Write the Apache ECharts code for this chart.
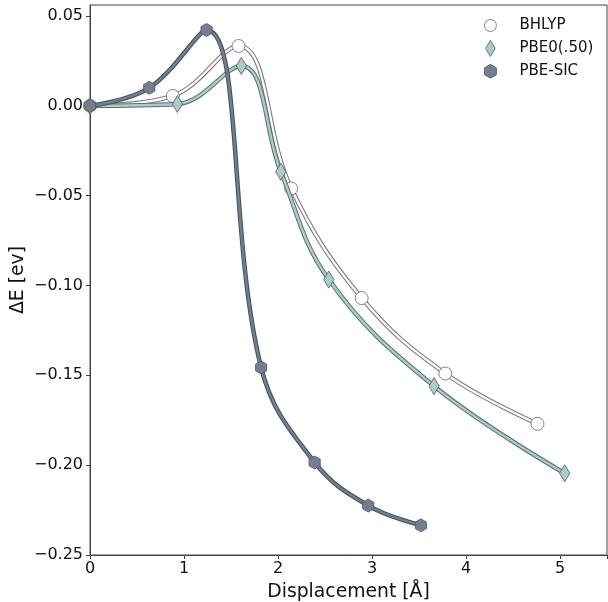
<!DOCTYPE html>
<html>
<head>
<meta charset="utf-8">
<script src="https://cdn.jsdelivr.net/npm/echarts@6/dist/echarts.min.js"></script>
<style>html,body{margin:0;padding:0;background:#fff}#c{width:608px;height:602px}</style>
</head>
<body>
<div id="c"></div>
<script>
const seriesNames = ['BHLYP', 'PBE0(.50)', 'PBE-SIC'];
const bhlypX = [0, 0.88, 1.58, 2.14, 2.89, 3.78, 4.76];
const bhlypY = [0, 0.0055, 0.0333, -0.046, -0.107, -0.149, -0.177];
const pbe0X = [0, 0.93, 1.61, 2.03, 2.54, 3.66, 5.05];
const pbe0Y = [0, 0.001, 0.0222, -0.0367, -0.0967, -0.156, -0.2045];
const sicX = [0, 0.63, 1.24, 1.82, 2.39, 2.96, 3.52];
const sicY = [0, 0.010, 0.0422, -0.1456, -0.1985, -0.2225, -0.2335];
const xTicks = [0, 1, 2, 3, 4, 5];
const yTicks = [-0.25, -0.20, -0.15, -0.10, -0.05, 0.00, 0.05];

const pair = (xs, ys) => xs.map((x, i) => [x, ys[i]]);
const hex = 'path://M0,-1L0.866,-0.5L0.866,0.5L0,1L-0.866,0.5L-0.866,-0.5Z';
const dia = 'path://M0,-1L0.6,0L0,1L-0.6,0Z';
const FONT = 'DejaVu Sans';
const SM = 0.4;

function edge(name, data, color, w, z) {
  return { name: name + '_edge', type: 'line', data, smooth: SM, showSymbol: false, symbol: 'none',
    lineStyle: { color, width: w }, z, silent: true, animation: false };
}
function main(name, data, color, w, z, symbol, size, fill, border) {
  return { name, type: 'line', data, smooth: SM, symbol, symbolSize: size, showSymbol: true, symbolKeepAspect: true,
    lineStyle: { color, width: w }, itemStyle: { color: fill, borderColor: border, borderWidth: 0.8 },
    z, animation: false };
}

const chart = echarts.init(document.getElementById('c'), null, { renderer: 'canvas' });
chart.setOption({
  backgroundColor: '#fff',
  animation: false,
  grid: { left: 90, right: 1, top: 5, bottom: 47, show: true, borderColor: '#444', borderWidth: 1,
    containLabel: false, outerBoundsMode: 'none' },
  legend: {
    orient: 'vertical', left: 484, top: 18, padding: 0, itemGap: 7, itemWidth: 12, itemHeight: 16, symbolKeepAspect: true,
    textStyle: { fontFamily: FONT, fontSize: 15, color: '#111', padding: [0, 0, 0, 18] },
    data: [
      { name: seriesNames[0], icon: 'circle', itemStyle: { color: '#fff', borderColor: '#666', borderWidth: 0.8 } },
      { name: seriesNames[1], icon: dia, itemStyle: { color: '#a9cdca', borderColor: '#555', borderWidth: 0.8 } },
      { name: seriesNames[2], icon: hex, itemStyle: { color: '#708090', borderColor: '#555', borderWidth: 0.8 } }
    ]
  },
  xAxis: {
    type: 'value', min: 0, max: 5.5, interval: 1,
    name: 'Displacement [Å]', nameLocation: 'middle', nameGap: 28, nameMoveOverlap: false,
    nameTextStyle: { fontFamily: FONT, fontSize: 18.8, color: '#111' },
    axisLine: { show: true, onZero: false, lineStyle: { color: '#444' } },
    axisTick: { show: true, inside: false, length: 4, lineStyle: { color: '#444' } },
    axisLabel: { fontFamily: FONT, fontSize: 16, color: '#111', margin: 6,
      formatter: v => xTicks.includes(v) ? String(v) : '' },
    splitLine: { show: false }
  },
  yAxis: {
    type: 'value', min: -0.25, max: 0.0561, interval: 0.05,
    name: 'ΔE [ev]', nameLocation: 'middle', nameGap: 62, nameMoveOverlap: false,
    nameTextStyle: { fontFamily: FONT, fontSize: 18.8, color: '#111' },
    axisLine: { show: true, onZero: false, lineStyle: { color: '#444' } },
    axisTick: { show: true, inside: false, length: 4, lineStyle: { color: '#444' } },
    axisLabel: { fontFamily: FONT, fontSize: 16, color: '#111', margin: 7, showMaxLabel: false,
      formatter: v => { const t = yTicks.find(k => Math.abs(k - v) < 1e-6); return t === undefined ? '' : t.toFixed(2).replace('-', '\u2212'); } },
    splitLine: { show: false }
  },
  series: [
    edge(seriesNames[0], pair(bhlypX, bhlypY), '#808080', 4.5, 1),
    main(seriesNames[0], pair(bhlypX, bhlypY), '#ffffff', 2.2, 2, 'circle', 13, '#ffffff', '#666'),
    edge(seriesNames[1], pair(pbe0X, pbe0Y), '#5e706e', 4.5, 3),
    main(seriesNames[1], pair(pbe0X, pbe0Y), '#a9cdca', 2.4, 4, dia, 17, '#a9cdca', '#555'),
    edge(seriesNames[2], pair(sicX, sicY), '#45525e', 4.5, 5),
    main(seriesNames[2], pair(sicX, sicY), '#708090', 2.4, 6, hex, 13, '#708090', '#555')
  ]
});
</script>
</body>
</html>
